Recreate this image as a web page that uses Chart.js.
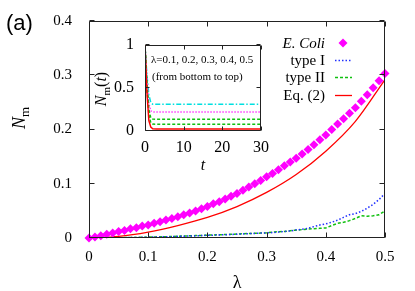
<!DOCTYPE html>
<html>
<head>
<meta charset="utf-8">
<script src="https://cdn.jsdelivr.net/npm/chart.js@4"></script>
<style>
  body { margin: 0; background: #fff; }
  #wrap { position: relative; width: 415px; height: 291px; }
  #wrap canvas { position: absolute; left: 0; top: 0; }
</style>
</head>
<body>
<div id="wrap">
  <canvas id="main" width="415" height="291"></canvas>
  <canvas id="inset" width="415" height="291"></canvas>
</div>
<script>
// main panel data (lambda on x)
const lambdas = [0.00, 0.01, 0.02, 0.03, 0.04, 0.05, 0.06, 0.07, 0.08, 0.09,
  0.10, 0.11, 0.12, 0.13, 0.14, 0.15, 0.16, 0.17, 0.18, 0.19,
  0.20, 0.21, 0.22, 0.23, 0.24, 0.25, 0.26, 0.27, 0.28, 0.29,
  0.30, 0.31, 0.32, 0.33, 0.34, 0.35, 0.36, 0.37, 0.38, 0.39,
  0.40, 0.41, 0.42, 0.43, 0.44, 0.45, 0.46, 0.47, 0.48, 0.49, 0.50];
const eColi = [0.000, 0.002, 0.004, 0.007, 0.009, 0.012, 0.014, 0.017, 0.019, 0.022,
  0.024, 0.027, 0.030, 0.033, 0.036, 0.039, 0.043, 0.046, 0.050, 0.054,
  0.058, 0.063, 0.067, 0.072, 0.077, 0.082, 0.088, 0.094, 0.100, 0.106,
  0.113, 0.119, 0.126, 0.133, 0.140, 0.147, 0.155, 0.163, 0.172, 0.181,
  0.190, 0.200, 0.210, 0.220, 0.230, 0.240, 0.252, 0.264, 0.277, 0.290, 0.303];
const typeI = [0, 0, 0.0001, 0.0002, 0.0003, 0.0005, 0.0006, 0.0008, 0.001, 0.0012,
  0.0015, 0.0017, 0.002, 0.0022, 0.0025, 0.003, 0.0033, 0.0036, 0.004, 0.0045,
  0.005, 0.0053, 0.0056, 0.006, 0.0065, 0.007, 0.0075, 0.008, 0.0085, 0.009,
  0.0095, 0.010, 0.011, 0.012, 0.013, 0.015, 0.016, 0.018, 0.021, 0.024,
  0.026, 0.029, 0.033, 0.038, 0.043, 0.045, 0.049, 0.055, 0.062, 0.071, 0.082];
const typeII = [0, 0, 0.0001, 0.0002, 0.0004, 0.0005, 0.0007, 0.0009, 0.0011, 0.0013,
  0.0016, 0.0018, 0.0021, 0.0024, 0.0028, 0.0032, 0.0036, 0.004, 0.0044, 0.0048,
  0.0052, 0.0056, 0.006, 0.0064, 0.0068, 0.0073, 0.0078, 0.0082, 0.0087, 0.0091,
  0.0096, 0.0108, 0.0115, 0.012, 0.0135, 0.0145, 0.0155, 0.0165, 0.0172, 0.0178,
  0.0185, 0.023, 0.027, 0.029, 0.032, 0.036, 0.041, 0.040, 0.041, 0.043, 0.050];
const eq2Lambdas = [0, 0.05, 0.10, 0.15, 0.20, 0.25, 0.30, 0.35, 0.40, 0.45, 0.50];
const eq2 = [0, 0.003, 0.011, 0.023, 0.038, 0.058, 0.084, 0.117, 0.160, 0.215, 0.292];
const seriesNames = ['E. Coli', 'type I', 'type II', 'Eq. (2)'];
const xTicks = [0, 0.1, 0.2, 0.3, 0.4, 0.5];
const yTicks = [0, 0.1, 0.2, 0.3, 0.4];

// inset data (time on x)
const tValues = [0, 0.5, 1, 1.5, 2, 3, 30];
const nmLam01 = [1, 0.45, 0.12, 0.045, 0.026, 0.023, 0.023];
const nmLam02 = [1, 0.50, 0.19, 0.095, 0.080, 0.078, 0.078];
const nmLam03 = [1, 0.55, 0.25, 0.150, 0.138, 0.136, 0.136];
const nmLam04 = [1, 0.60, 0.32, 0.235, 0.222, 0.220, 0.220];
const nmLam05 = [1, 0.65, 0.42, 0.330, 0.312, 0.310, 0.310];
const insetTTicks = [0, 10, 20, 30];
const insetYTicks = [0, 0.5, 1];
const insetYLabels = ['0', '0.5', '1'];
const insetNote = ['\u03bb=0.1, 0.2, 0.3, 0.4, 0.5', '(from bottom to top)'];

const SERIF = "'Liberation Serif', 'DejaVu Serif', serif";
const pts = (xs, ys) => xs.map((x, i) => ({x: x, y: ys[i]}));

// inward ticks on all four sides plus the frame, gnuplot style
const frameTicks = {
  id: 'frameTicks',
  afterDraw(chart, args, opts) {
    const {ctx, chartArea: a, scales: {x, y}} = chart;
    const len = opts.len;
    const L = a.left + 0.5, R = a.right - 0.5, T = a.top + 0.5, B = a.bottom - 0.5;
    ctx.save();
    ctx.strokeStyle = '#222';
    ctx.lineWidth = 1;
    ctx.beginPath();
    x.ticks.forEach(t => {
      const px = Math.round(x.getPixelForValue(t.value)) + 0.5;
      ctx.moveTo(px, B); ctx.lineTo(px, B - len);
      ctx.moveTo(px, T); ctx.lineTo(px, T + len);
    });
    y.ticks.forEach(t => {
      const py = Math.round(y.getPixelForValue(t.value)) - 0.5;
      ctx.moveTo(L, py); ctx.lineTo(L + len, py);
      ctx.moveTo(R, py); ctx.lineTo(R - len, py);
    });
    ctx.moveTo(L, T); ctx.lineTo(R, T); ctx.lineTo(R, B); ctx.lineTo(L, B); ctx.closePath();
    ctx.stroke();
    ctx.restore();
  }
};

// rotated "N_m" style axis label with a subscript
function drawNm(ctx, cx, cy, size, tail) {
  ctx.save();
  ctx.translate(cx, cy);
  ctx.rotate(-Math.PI / 2);
  ctx.fillStyle = '#000';
  ctx.textBaseline = 'alphabetic';
  ctx.textAlign = 'left';
  const fN = 'italic ' + size + 'px ' + SERIF;
  const fS = Math.round(size * 0.7) + 'px ' + SERIF;
  ctx.font = fN; const wN = ctx.measureText('N').width;
  ctx.font = fS; const wS = ctx.measureText('m').width;
  let wT = 0;
  if (tail) {
    ctx.font = size + 'px ' + SERIF;
    wT = ctx.measureText('()').width;
    ctx.font = 'italic ' + size + 'px ' + SERIF;
    wT += ctx.measureText('t').width;
  }
  let x = -(wN + wS + wT) / 2;
  const base = size * 0.33;
  ctx.font = fN; ctx.fillText('N', x, base); x += wN;
  ctx.font = fS; ctx.fillText('m', x, base + size * 0.22); x += wS;
  if (tail) {
    ctx.font = size + 'px ' + SERIF;
    ctx.fillText('(', x, base); x += ctx.measureText('(').width;
    ctx.font = 'italic ' + size + 'px ' + SERIF;
    ctx.fillText('t', x, base); x += ctx.measureText('t').width;
    ctx.font = size + 'px ' + SERIF;
    ctx.fillText(')', x, base);
  }
  ctx.restore();
}

const mainDecor = {
  id: 'mainDecor',
  afterDraw(chart) {
    const ctx = chart.ctx;
    const ds = chart.data.datasets;
    ctx.save();
    ctx.fillStyle = '#000';
    ctx.font = "22px 'Liberation Sans', Arial, sans-serif";
    ctx.textBaseline = 'middle';
    ctx.fillText('(a)', 6, 24);
    drawNm(ctx, 19, 118, 18, false);

    // key in the top right corner
    const rows = [43, 60, 77, 95];
    ctx.textAlign = 'right';
    ds.forEach((d, i) => {
      ctx.font = (i === 0 ? 'italic ' : '') + '15px ' + SERIF;
      ctx.fillStyle = '#000';
      ctx.fillText(d.label, 325, rows[i] + 1);
      if (i === 0) {
        ctx.fillStyle = d.backgroundColor;
        ctx.beginPath();
        ctx.moveTo(343, rows[i] - 4.5); ctx.lineTo(347.5, rows[i]);
        ctx.lineTo(343, rows[i] + 4.5); ctx.lineTo(338.5, rows[i]);
        ctx.closePath(); ctx.fill();
      } else {
        ctx.strokeStyle = d.borderColor;
        ctx.lineWidth = d.borderWidth;
        ctx.setLineDash(d.borderDash || []);
        ctx.beginPath();
        ctx.moveTo(335, rows[i] + 0.5); ctx.lineTo(352, rows[i] + 0.5);
        ctx.stroke();
        ctx.setLineDash([]);
      }
    });
    ctx.restore();
  }
};

const insetDecor = {
  id: 'insetDecor',
  afterDraw(chart) {
    const ctx = chart.ctx;
    const a = chart.chartArea;
    ctx.save();
    ctx.fillStyle = '#000';
    ctx.font = '11px ' + SERIF;
    ctx.textBaseline = 'middle';
    ctx.fillText(insetNote[0], a.left + 6, 60);
    ctx.fillText(insetNote[1], a.left + 7, 77);
    ctx.restore();
    drawNm(ctx, 101, 89, 16, true);
  }
};

// keep the label overhang from pushing the plot area around
const fixY = w => s => { s.width = w; s.paddingTop = 0; s.paddingBottom = 0; };
const fixX = h => s => { s.height = h; s.paddingLeft = 0; s.paddingRight = 0; };

new Chart(document.getElementById('main'), {
  type: 'scatter',
  data: {
    datasets: [
      { label: seriesNames[0], data: pts(lambdas, eColi), showLine: false,
        pointStyle: 'rectRot', pointRadius: 4.5, backgroundColor: '#ff00ff',
        borderColor: '#ff00ff', borderWidth: 0, clip: false },
      { label: seriesNames[1], data: pts(lambdas, typeI), showLine: true,
        pointRadius: 0, borderColor: '#2030ff', borderWidth: 1.5, borderDash: [1.5, 2] },
      { label: seriesNames[2], data: pts(lambdas, typeII), showLine: true,
        pointRadius: 0, borderColor: '#10c010', borderWidth: 1.5, borderDash: [3, 2] },
      { label: seriesNames[3], data: pts(eq2Lambdas, eq2), showLine: true,
        pointRadius: 0, borderColor: '#ff0000', borderWidth: 1.3,
        cubicInterpolationMode: 'monotone' }
    ]
  },
  options: {
    responsive: false,
    animation: false,
    events: [],
    layout: { padding: { top: 21, right: 30, bottom: 0, left: 0 } },
    plugins: { legend: { display: false }, tooltip: { enabled: false },
      frameTicks: { len: 5 } },
    scales: {
      x: {
        type: 'linear', min: 0, max: 0.5,
        afterBuildTicks: s => { s.ticks = xTicks.map(v => ({ value: v })); },
        afterFit: fixX(53),
        grid: { display: false, drawTicks: false },
        border: { display: false },
        ticks: { color: '#000', padding: 10, font: { family: SERIF, size: 15 } },
        title: { display: true, text: '\u03bb', color: '#000',
          font: { family: SERIF, size: 18, lineHeight: 1 }, padding: { top: 0, bottom: -1 } }
      },
      y: {
        type: 'linear', min: 0, max: 0.4,
        afterBuildTicks: s => { s.ticks = yTicks.map(v => ({ value: v })); },
        afterFit: fixY(89),
        grid: { display: false, drawTicks: false },
        border: { display: false },
        ticks: { color: '#000', padding: 17, font: { family: SERIF, size: 15 } }
      }
    }
  },
  plugins: [frameTicks, mainDecor]
});

new Chart(document.getElementById('inset'), {
  type: 'scatter',
  data: {
    datasets: [
      { data: pts(tValues, nmLam01), showLine: true, pointRadius: 0,
        borderColor: '#ff0000', borderWidth: 1.5 },
      { data: pts(tValues, nmLam02), showLine: true, pointRadius: 0,
        borderColor: '#10c010', borderWidth: 1.5, borderDash: [3, 2] },
      { data: pts(tValues, nmLam03), showLine: true, pointRadius: 0,
        borderColor: '#10c010', borderWidth: 1.5, borderDash: [3, 2] },
      { data: pts(tValues, nmLam04), showLine: true, pointRadius: 0,
        borderColor: '#ff40ff', borderWidth: 1.5, borderDash: [1.5, 1.5] },
      { data: pts(tValues, nmLam05), showLine: true, pointRadius: 0,
        borderColor: '#00e0e0', borderWidth: 1.5, borderDash: [5, 2, 1.5, 2] }
    ]
  },
  options: {
    responsive: false,
    animation: false,
    events: [],
    layout: { padding: { top: 45, right: 154, bottom: 117, left: 0 } },
    plugins: { legend: { display: false }, tooltip: { enabled: false },
      frameTicks: { len: 4 } },
    scales: {
      x: {
        type: 'linear', min: 0, max: 30,
        afterBuildTicks: s => { s.ticks = insetTTicks.map(v => ({ value: v })); },
        afterFit: fixX(43),
        grid: { display: false, drawTicks: false },
        border: { display: false },
        ticks: { color: '#000', padding: 7, font: { family: SERIF, size: 16 } },
        title: { display: true, text: 't', color: '#000',
          font: { family: SERIF, size: 16, style: 'italic', lineHeight: 1 }, padding: 0 }
      },
      y: {
        type: 'linear', min: 0, max: 1,
        afterBuildTicks: s => { s.ticks = insetYTicks.map(v => ({ value: v })); },
        afterFit: fixY(145),
        grid: { display: false, drawTicks: false },
        border: { display: false },
        ticks: { color: '#000', padding: 11, font: { family: SERIF, size: 16 },
          callback: (v, i) => insetYLabels[i] }
      }
    }
  },
  plugins: [frameTicks, insetDecor]
});
</script>
</body>
</html>
